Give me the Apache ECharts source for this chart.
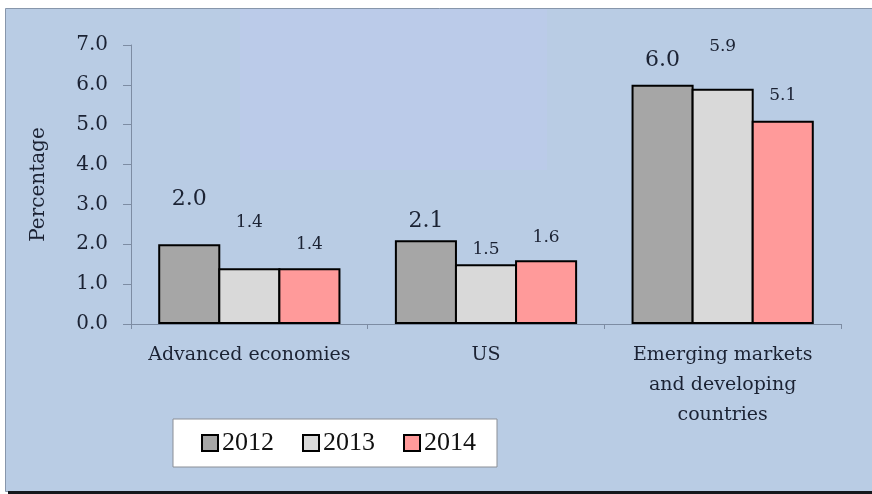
<!DOCTYPE html>
<html>
<head>
<meta charset="utf-8">
<script src="https://cdn.jsdelivr.net/npm/echarts@6/dist/echarts.min.js"></script>
<style>
  html, body { margin: 0; padding: 0; background: #ffffff; }
  #chart { width: 872px; height: 494px; }
</style>
</head>
<body>
<div id="chart"></div>
<script>
// Real GDP growth by region, per cent
const categories = ['Advanced economies', 'US', 'Emerging markets\nand developing\ncountries'];
const years = ['2012', '2013', '2014'];
const growth2012 = [2.0, 2.1, 6.0];
const growth2013 = [1.4, 1.5, 5.9];
const growth2014 = [1.4, 1.6, 5.1];
const yTickLabels = ['0.0', '1.0', '2.0', '3.0', '4.0', '5.0', '6.0', '7.0'];

// Gap (px) between each bar top and its value label
const lift2012 = [34, 8, 14];
const lift2013 = [37, 6, 34];
const lift2014 = [15, 14, 17];

const seriesColors = ['#a6a6a6', '#d9d9d9', '#ff9a9a'];
const textColor = '#1b2233';
const axisColor = '#7d8ca3';

function barSeries(name, values, lifts, color, fontSize) {
  return {
    name: name,
    type: 'bar',
    // slight overlap so neighbouring bars share one outline
    barGap: '-3.2%',
    barCategoryGap: '23%',
    itemStyle: { color: color, borderColor: '#000000', borderWidth: 2 },
    label: {
      show: true,
      position: 'top',
      fontFamily: 'DejaVu Serif',
      fontSize: fontSize,
      lineHeight: fontSize,
      color: textColor,
      formatter: p => p.value.toFixed(1)
    },
    data: values.map((v, i) => ({ value: v, label: { distance: lifts[i] } }))
  };
}

const chart = echarts.init(document.getElementById('chart'), null, { renderer: 'canvas' });

chart.setOption({
  backgroundColor: '#ffffff',
  animation: false,
  graphic: [
    { type: 'rect', z: -20, shape: { x: 5.5, y: 8.5, width: 870, height: 483 },
      style: { fill: '#b9cce4', stroke: '#8796ab', lineWidth: 1 } },
    { type: 'rect', z: -19, shape: { x: 240, y: 9, width: 307, height: 161 },
      style: { fill: '#bbcbe9' } },
    { type: 'rect', z: -18, shape: { x: 8, y: 491, width: 864, height: 3 },
      style: { fill: '#15181c' } }
  ],
  grid: { left: 131, right: 31, top: 45, bottom: 170, containLabel: false },
  legend: {
    left: 173,
    top: 419,
    data: years,
    icon: 'rect',
    itemWidth: 16,
    itemHeight: 16,
    itemGap: 28,
    padding: [11, 21, 11, 28],
    backgroundColor: '#ffffff',
    borderColor: '#8b8f96',
    borderWidth: 1,
    itemStyle: { borderColor: '#000000', borderWidth: 2 },
    textStyle: { fontFamily: 'Liberation Serif', fontSize: 26, color: '#111111', padding: [0, 0, 0, -1] }
  },
  xAxis: {
    type: 'category',
    data: categories,
    boundaryGap: true,
    axisLine: { lineStyle: { color: axisColor, width: 1 } },
    axisTick: { show: true, alignWithLabel: false, length: 5, lineStyle: { color: axisColor } },
    axisLabel: {
      interval: 0,
      margin: 16,
      fontFamily: 'DejaVu Serif',
      fontSize: 19,
      lineHeight: 30,
      color: textColor,
      align: 'center'
    }
  },
  yAxis: {
    type: 'value',
    min: 0,
    max: 7,
    interval: 1,
    name: 'Percentage',
    nameLocation: 'middle',
    nameRotate: 90,
    nameGap: 82,
    nameTextStyle: { fontFamily: 'DejaVu Serif', fontSize: 20, color: textColor },
    axisLine: { show: true, lineStyle: { color: axisColor, width: 1 } },
    axisTick: { show: true, length: 8, lineStyle: { color: axisColor } },
    splitLine: { show: false },
    axisLabel: {
      margin: 23,
      fontFamily: 'DejaVu Serif',
      fontSize: 20,
      color: textColor,
      formatter: (v) => yTickLabels[Math.round(v)]
    }
  },
  series: [
    barSeries(years[0], growth2012, lift2012, seriesColors[0], 22),
    barSeries(years[1], growth2013, lift2013, seriesColors[1], 17),
    barSeries(years[2], growth2014, lift2014, seriesColors[2], 17)
  ]
});
</script>
</body>
</html>
